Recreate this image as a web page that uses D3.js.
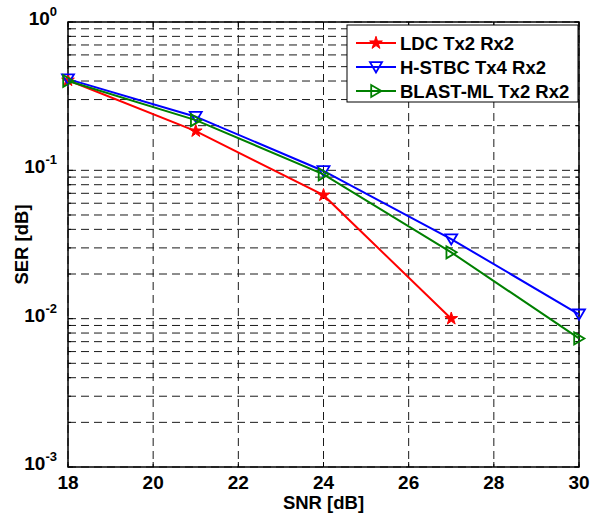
<!DOCTYPE html>
<html>
<head>
<meta charset="utf-8">
<script src="https://cdn.jsdelivr.net/npm/d3@7"></script>
<style>
  body { margin: 0; background: #fff; }
  text { font-family: Arial, "Liberation Sans", sans-serif; font-weight: bold; }
</style>
</head>
<body>
<div id="chart"></div>
<script>
const snr = [18, 21, 24, 27, 30];
const ldc = [0.405, 0.184, 0.068, 0.0100];
const hstbc = [0.412, 0.230, 0.099, 0.0344, 0.0107];
const blast = [0.400, 0.218, 0.094, 0.0280, 0.00736];
const xTicks = [18, 20, 22, 24, 26, 28, 30];
const yDecades = [-3, -2, -1, 0];

const seriesList = [
  { name: "LDC Tx2 Rx2", values: ldc, color: "#ff0000", marker: "star" },
  { name: "H-STBC Tx4 Rx2", values: hstbc, color: "#0000ff", marker: "down" },
  { name: "BLAST-ML Tx2 Rx2", values: blast, color: "#008000", marker: "right" }
];

const W = 590, H = 516;
const m = { left: 68, right: 11, top: 22, bottom: 49 };

const svg = d3.select("#chart").append("svg")
  .attr("width", W).attr("height", H);

const x = d3.scaleLinear().domain([18, 30]).range([m.left, W - m.right]);
const y = d3.scaleLog().domain([1e-3, 1]).range([H - m.bottom, m.top]);

const x0 = m.left, x1 = W - m.right, y0 = m.top, y1 = H - m.bottom;

// grid (major + minor on log axis)
const minorVals = [];
yDecades.slice(0, -1).forEach(d => {
  for (let k = 1; k <= 9; k++) minorVals.push(k * Math.pow(10, d));
});
minorVals.push(1);

const grid = svg.append("g");
minorVals.forEach(v => {
  grid.append("line")
    .attr("x1", x0).attr("x2", x1)
    .attr("y1", y(v)).attr("y2", y(v))
    .attr("stroke", "#1a1a1a").attr("stroke-width", 1)
    .attr("stroke-dasharray", "8,5");
});
xTicks.forEach(v => {
  grid.append("line")
    .attr("x1", x(v)).attr("x2", x(v))
    .attr("y1", y0).attr("y2", y1)
    .attr("stroke", "#1a1a1a").attr("stroke-width", 1)
    .attr("stroke-dasharray", "8,5");
});

// inner ticks
const ticks = svg.append("g").attr("stroke", "#000").attr("stroke-width", 1);
xTicks.forEach(v => {
  ticks.append("line").attr("x1", x(v)).attr("x2", x(v)).attr("y1", y1).attr("y2", y1 - 5);
  ticks.append("line").attr("x1", x(v)).attr("x2", x(v)).attr("y1", y0).attr("y2", y0 + 5);
});
minorVals.forEach(v => {
  const len = Number.isInteger(Math.log10(v)) ? 5 : 3;
  ticks.append("line").attr("x1", x0).attr("x2", x0 + len).attr("y1", y(v)).attr("y2", y(v));
  ticks.append("line").attr("x1", x1).attr("x2", x1 - len).attr("y1", y(v)).attr("y2", y(v));
});

// frame
svg.append("rect")
  .attr("x", x0).attr("y", y0)
  .attr("width", x1 - x0).attr("height", y1 - y0)
  .attr("fill", "none").attr("stroke", "#000").attr("stroke-width", 1.5);

// tick labels
xTicks.forEach(v => {
  svg.append("text")
    .attr("x", x(v)).attr("y", y1 + 22)
    .attr("text-anchor", "middle")
    .attr("font-size", 19)
    .text(v);
});
yDecades.forEach(d => {
  const t = svg.append("text")
    .attr("x", x0 - 11).attr("y", y(Math.pow(10, d)) + 3)
    .attr("text-anchor", "end")
    .attr("font-size", 19);
  t.append("tspan").text("10");
  t.append("tspan").attr("dy", -9).attr("font-size", 13).text(d);
});

// axis labels
svg.append("text")
  .attr("x", (x0 + x1) / 2).attr("y", 509)
  .attr("text-anchor", "middle").attr("font-size", 18.5)
  .text("SNR [dB]");
svg.append("text")
  .attr("transform", `translate(28,${(y0 + y1) / 2}) rotate(-90)`)
  .attr("text-anchor", "middle").attr("font-size", 18.5)
  .text("SER [dB]");

// markers
function drawMarker(g, type, cx, cy, color) {
  if (type === "star") {
    g.append("path")
      .attr("d", d3.symbol(d3.symbolStar, 50)())
      .attr("transform", `translate(${cx},${cy})`)
      .attr("fill", color).attr("stroke", color).attr("stroke-width", 1);
  } else if (type === "down") {
    const s = 6;
    g.append("path")
      .attr("d", `M${cx - s},${cy - s * 0.8} L${cx + s},${cy - s * 0.8} L${cx},${cy + s * 0.9} Z`)
      .attr("fill", "none").attr("stroke", color).attr("stroke-width", 1.8);
  } else {
    const s = 6;
    g.append("path")
      .attr("d", `M${cx - s * 0.8},${cy - s} L${cx - s * 0.8},${cy + s} L${cx + s * 0.9},${cy} Z`)
      .attr("fill", "none").attr("stroke", color).attr("stroke-width", 1.8);
  }
}

const line = d3.line().x(d => x(d[0])).y(d => y(d[1]));

seriesList.forEach(s => {
  const pts = s.values.map((v, i) => [snr[i], v]);
  svg.append("path")
    .datum(pts)
    .attr("d", line)
    .attr("fill", "none").attr("stroke", s.color).attr("stroke-width", 2);
  const g = svg.append("g");
  pts.forEach(p => drawMarker(g, s.marker, x(p[0]), y(p[1]), s.color));
});

// legend
const lg = svg.append("g");
lg.append("rect")
  .attr("x", 347).attr("y", 25).attr("width", 231).attr("height", 77)
  .attr("fill", "#fff").attr("stroke", "#000").attr("stroke-width", 1);
seriesList.forEach((s, i) => {
  const ly = 43 + i * 24;
  lg.append("line")
    .attr("x1", 356).attr("x2", 396).attr("y1", ly).attr("y2", ly)
    .attr("stroke", s.color).attr("stroke-width", 2);
  drawMarker(lg, s.marker, 376, ly, s.color);
  lg.append("text")
    .attr("x", 400).attr("y", ly + 6.5)
    .attr("font-size", 18.5)
    .text(s.name);
});
</script>
</body>
</html>
